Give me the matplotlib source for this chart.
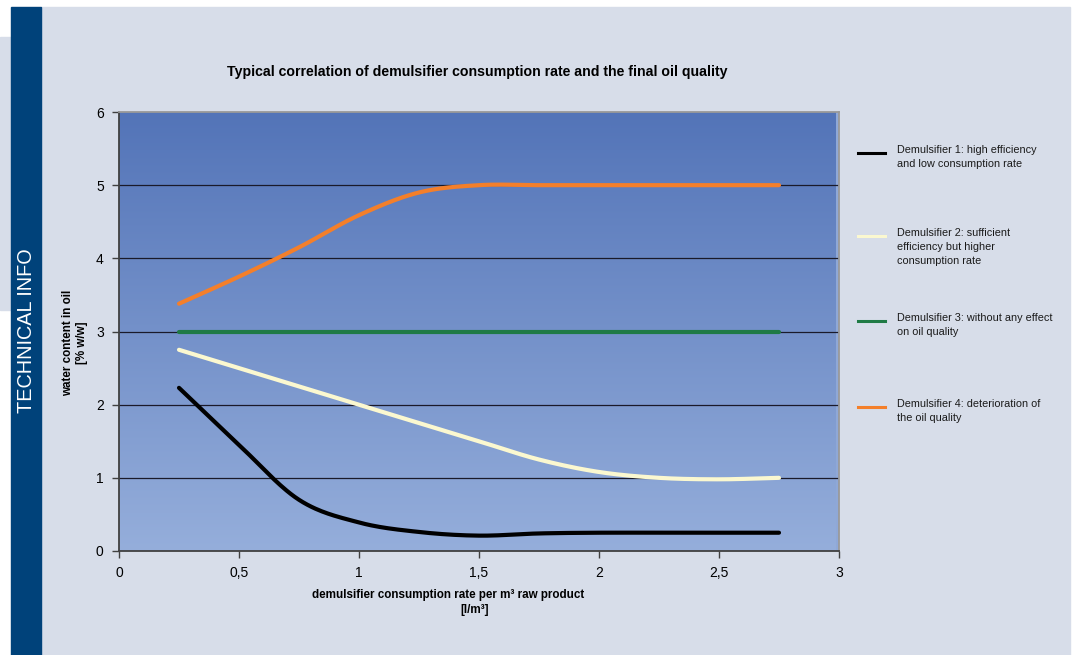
import numpy as np
import matplotlib.pyplot as plt
from matplotlib.patches import Rectangle
from matplotlib.ticker import FuncFormatter

plt.rcParams['font.family'] = ['Liberation Sans', 'DejaVu Sans']

# consumption rate [l/m3]
rate = [0.25, 0.5, 0.75, 1.0, 1.25, 1.5, 1.75, 2.0, 2.25, 2.5, 2.75]

# water content in oil [% w/w]
demuls_1 = [2.23, 1.45, 0.70, 0.39, 0.26, 0.21, 0.24, 0.25, 0.25, 0.25, 0.25]
demuls_2 = [2.75, 2.50, 2.25, 2.00, 1.75, 1.50, 1.25, 1.08, 1.00, 0.98, 1.00]
demuls_3 = [3.0, 3.0, 3.0, 3.0, 3.0, 3.0, 3.0, 3.0, 3.0, 3.0, 3.0]
demuls_4 = [3.38, 3.75, 4.15, 4.59, 4.90, 5.00, 5.00, 5.00, 5.00, 5.00, 5.00]

labels = ['Demulsifier 1: high efficiency\nand low consumption rate',
          'Demulsifier 2: sufficient\nefficiency but higher\nconsumption rate',
          'Demulsifier 3: without any effect\non oil quality',
          'Demulsifier 4: deterioration of\nthe oil quality']
colors = ['#000000', '#fbf8d0', '#1f7a45', '#f47f2a']


def smooth(x, y, n=30):
    # Catmull-Rom style smoothing like the "smoothed line" option in Excel
    x = np.asarray(x, float)
    y = np.asarray(y, float)
    px = np.concatenate([[2 * x[0] - x[1]], x, [2 * x[-1] - x[-2]]])
    py = np.concatenate([[2 * y[0] - y[1]], y, [2 * y[-1] - y[-2]]])
    xs, ys = [], []
    t = np.linspace(0, 1, n)
    for i in range(1, len(px) - 2):
        for arr, out in ((px, xs), (py, ys)):
            p0, p1, p2, p3 = arr[i - 1], arr[i], arr[i + 1], arr[i + 2]
            out.extend(0.5 * (2 * p1 + (-p0 + p2) * t
                              + (2 * p0 - 5 * p1 + 4 * p2 - p3) * t ** 2
                              + (-p0 + 3 * p1 - 3 * p2 + p3) * t ** 3))
    return xs, ys


W, H = 1075, 655
fig = plt.figure(figsize=(W / 100, H / 100), dpi=100)
fig.patch.set_facecolor('white')

# page decoration
fig.add_artist(Rectangle((41 / W, 0), (1070 - 41) / W, (H - 7) / H,
                         transform=fig.transFigure, color='#d7dde9', zorder=0))
fig.add_artist(Rectangle((0, (H - 310) / H), 11 / W, (310 - 37) / H,
                         transform=fig.transFigure, color='#d7dde9', zorder=0))
fig.add_artist(Rectangle((11 / W, 0), 30 / W, (H - 7) / H,
                         transform=fig.transFigure, color='#00427a', zorder=0))
fig.text(27 / W, 1 - 331 / H, 'TECHNICAL INFO', rotation=90, color='white',
         fontsize=14.3, ha='center', va='center')

ax = fig.add_axes([119 / W, 1 - 551 / H, 720 / W, 439 / H])
ax.set_facecolor('#8fa8d7')

# gradient plot area
grad = np.linspace(0, 1, 256).reshape(-1, 1)
top = np.array([0x53, 0x74, 0xb8]) / 255
bot = np.array([0x95, 0xae, 0xdb]) / 255
img = top + (bot - top) * grad[:, :, None]
ax.imshow(img, extent=[0, 2.985, 0, 6], aspect='auto', origin='upper', zorder=0)

for v in range(1, 6):
    ax.axhline(v, color='#1a1a2a', lw=0.9, zorder=1)

for y, c, lab in zip([demuls_1, demuls_2, demuls_3, demuls_4], colors, labels):
    sx, sy = smooth(rate, y)
    ax.plot(sx, sy, color=c, lw=3, solid_capstyle='round', zorder=3, label=lab)

ax.set_xlim(0, 3)
ax.set_ylim(0, 6)
ax.set_xticks(np.arange(0, 3.01, 0.5))
ax.set_yticks(range(0, 7))
ax.xaxis.set_major_formatter(FuncFormatter(lambda v, p: ('%g' % v).replace('.', ',')))
ax.tick_params(direction='out', length=5, width=1, color='#404040',
               labelsize=10, pad=6)

ax.spines['left'].set_color('#404040')
ax.spines['bottom'].set_color('#404040')
ax.spines['top'].set_color('#999999')
ax.spines['right'].set_color('#999999')
for s in ax.spines.values():
    s.set_linewidth(1.3)

# axis titles
fig.text(448 / W, 1 - 595 / H, 'demulsifier consumption rate per m³ raw product',
         ha='center', va='center', fontsize=8.4, fontweight='bold')
fig.text(475 / W, 1 - 610 / H, '[l/m³]',
         ha='center', va='center', fontsize=8.4, fontweight='bold')
fig.text(68 / W, 1 - 343 / H, 'water content in oil', rotation=90,
         ha='center', va='center', fontsize=8.4, fontweight='bold')
fig.text(82 / W, 1 - 343 / H, '[% w/w]', rotation=90,
         ha='center', va='center', fontsize=8.4, fontweight='bold')
fig.text(477 / W, 1 - 72 / H,
         'Typical correlation of demulsifier consumption rate and the final oil quality',
         ha='center', va='center', fontsize=10.2, fontweight='bold')

# legend as separate entries on the right
leg_y = [153, 236, 321, 407]
for yy, c, lab in zip(leg_y, colors, labels):
    fig.add_artist(plt.Line2D([858 / W, 885 / W], [1 - yy / H, 1 - yy / H],
                              transform=fig.transFigure, color=c, lw=2.2))
    fig.text(897 / W, 1 - (yy - 8) / H, lab, ha='left', va='top',
             fontsize=7.8, linespacing=1.5, color='#1a1a1a')

fig.savefig('out.png', dpi=100, facecolor=fig.get_facecolor())
